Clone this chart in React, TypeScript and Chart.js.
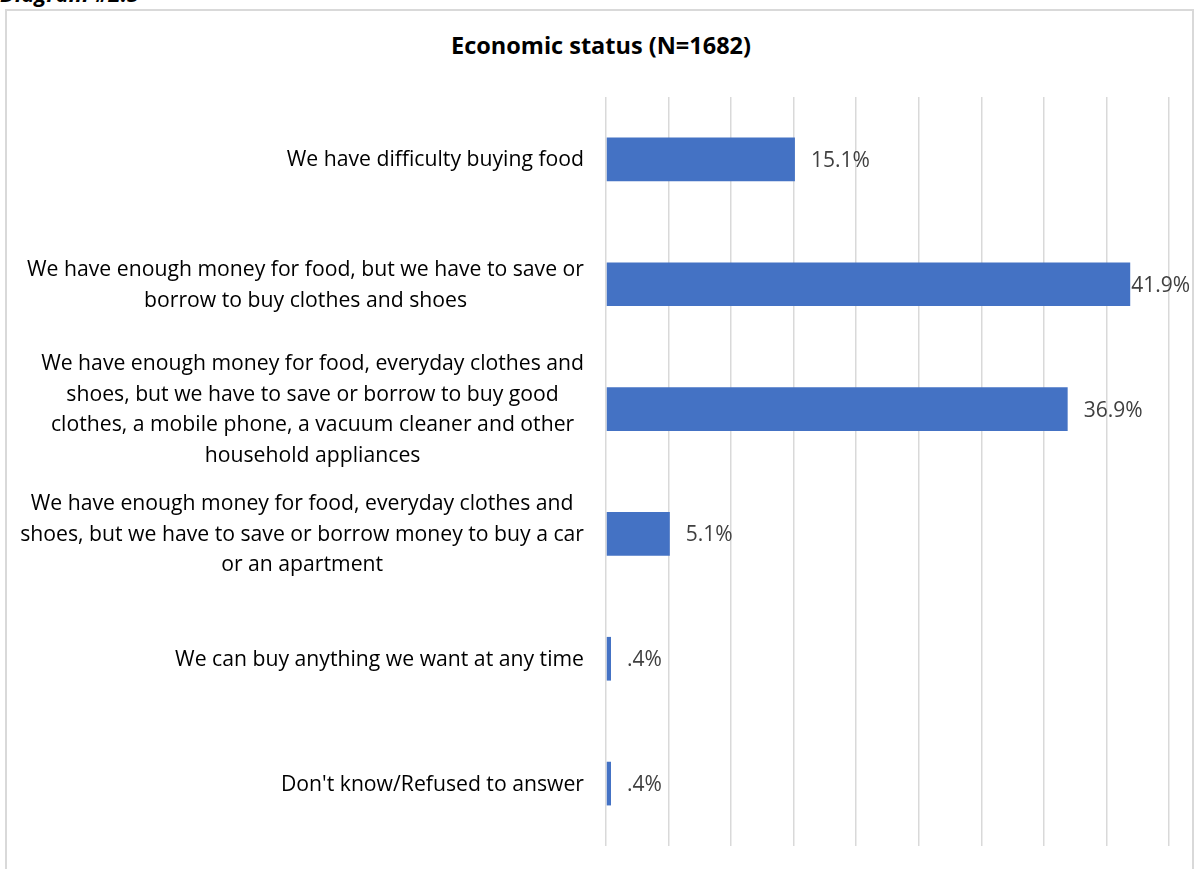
import React, { useEffect, useRef } from "react";
import { Chart, registerables } from "chart.js";

Chart.register(...registerables);

const categories: string[][] = [
  ["We have difficulty buying food"],
  ["We have enough money for food, but we have to save or", "borrow to buy clothes and shoes"],
  [
    "We have enough money for food, everyday clothes and",
    "shoes, but we have to save or borrow to buy good",
    "clothes, a mobile phone, a vacuum cleaner and other",
    "household appliances",
  ],
  [
    "We have enough money for food, everyday clothes and",
    "shoes, but we have to save or borrow money to buy a car",
    "or an apartment",
  ],
  ["We can buy anything we want at any time"],
  ["Don't know/Refused to answer"],
];
const values: number[] = [15.1, 41.9, 36.9, 5.1, 0.4, 0.4];
const valueLabels: string[] = ["15.1%", "41.9%", "36.9%", "5.1%", ".4%", ".4%"];
const chartTitle = "Economic status (N=1682)";
const headerText = "Diagram #2.5";

const FONT = "'Open Sans', 'Noto Sans', sans-serif";

const labelPlugin = {
  id: "customLabels",
  afterDatasetsDraw(chart: any) {
    const ctx = chart.ctx;
    const yScale = chart.scales.y;
    const meta = chart.getDatasetMeta(0);
    ctx.save();
    // category labels: block right-aligned, lines centered
    ctx.font = `21.2px ${FONT}`;
    ctx.fillStyle = "#000000";
    ctx.textBaseline = "middle";
    ctx.textAlign = "center";
    const rightEdge = chart.chartArea.left - 22;
    const lh = 30.5;
    categories.forEach((lines, i) => {
      const cy = yScale.getPixelForValue(i) + 1;
      const maxW = Math.max(...lines.map((l) => ctx.measureText(l).width));
      const cx = rightEdge - maxW / 2;
      lines.forEach((l, j) => {
        ctx.fillText(l, cx, cy + (j - (lines.length - 1) / 2) * lh);
      });
    });
    // value labels
    ctx.font = `21px ${FONT}`;
    ctx.fillStyle = "#404040";
    ctx.textAlign = "left";
    const maxRight = chart.width - 7;
    meta.data.forEach((bar: any, i: number) => {
      const t = valueLabels[i];
      const w = ctx.measureText(t).width;
      let x = bar.x + 16;
      if (x + w > maxRight) x = Math.max(bar.x + 1, maxRight - w);
      ctx.fillText(t, x, bar.y + 1.5);
    });
    ctx.restore();
  },
};

export default function App() {
  const ref = useRef<HTMLCanvasElement | null>(null);
  useEffect(() => {
    if (!ref.current) return;
    const chart = new Chart(ref.current, {
      type: "bar",
      data: {
        labels: categories.map((c) => c.join(" ")),
        datasets: [
          {
            data: values,
            backgroundColor: "#4472C4",
            borderWidth: 0,
            categoryPercentage: 1,
            barPercentage: 0.35,
          },
        ],
      },
      options: {
        indexAxis: "y",
        animation: false,
        responsive: false,
        maintainAspectRatio: false,
        devicePixelRatio: 1,
        layout: { padding: { left: 0, right: 28, top: 97, bottom: 23 } },
        plugins: {
          legend: { display: false },
          title: { display: false },
          tooltip: { enabled: false },
        },
        scales: {
          x: {
            min: 0,
            max: 45,
            ticks: { display: false, stepSize: 5 },
            grid: { color: "#d9d9d9", lineWidth: 1.5, drawTicks: false },
            border: { display: false },
            afterFit: (s: any) => {
              s.height = 0;
            },
          },
          y: {
            ticks: { display: false },
            grid: { display: false, drawTicks: false },
            border: { display: false },
            afterFit: (s: any) => {
              s.width = 606;
            },
          },
        },
      },
      plugins: [labelPlugin],
    } as any);
    return () => chart.destroy();
  }, []);

  return (
    <div
      style={{
        position: "fixed",
        left: 0,
        top: 0,
        width: 1197,
        height: 869,
        background: "#ffffff",
        overflow: "hidden",
      }}
    >
      <div
        style={{
          position: "absolute",
          left: 0,
          top: -19,
          fontFamily: FONT,
          fontWeight: 700,
          fontStyle: "italic",
          fontSize: 22,
          lineHeight: "24px",
          color: "#000",
        }}
      >
        {headerText}
      </div>
      <div
        style={{
          position: "absolute",
          left: 5,
          top: 9,
          width: 1189,
          height: 900,
          border: "2px solid #d9d9d9",
          boxSizing: "border-box",
        }}
      />
      <div
        style={{
          position: "absolute",
          left: 5,
          top: 30,
          width: 1192,
          textAlign: "center",
          fontFamily: FONT,
          fontWeight: 700,
          fontSize: 23.5,
          lineHeight: "30px",
          color: "#000",
        }}
      >
        {chartTitle}
      </div>
      <canvas
        ref={ref}
        width={1197}
        height={869}
        style={{ position: "absolute", left: 0, top: 0, width: 1197, height: 869 }}
      />
    </div>
  );
}
